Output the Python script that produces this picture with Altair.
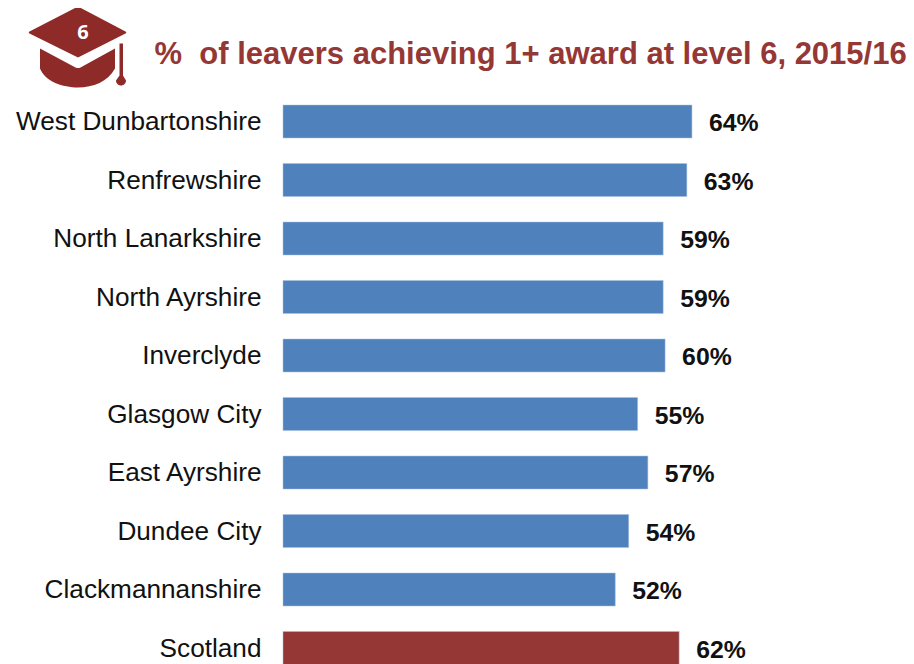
import altair as alt
import pandas as pd

categories = ["West Dunbartonshire", "Renfrewshire", "North Lanarkshire", "North Ayrshire",
              "Inverclyde", "Glasgow City", "East Ayrshire", "Dundee City",
              "Clackmannanshire", "Scotland"]
values = [64.0, 63.2, 59.5, 59.5, 59.8, 55.5, 57.1, 54.1, 52.0, 62.0]
labels = ["64%", "63%", "59%", "59%", "60%", "55%", "57%", "54%", "52%", "62%"]
groups = ["Council"] * 9 + ["National"]
title_text = ["%\u00a0 of leavers achieving 1+ award at level 6, 2015/16"]
icon_text = ["6"]

BLUE, RED = "#4F81BD", "#953735"
FONT = "Liberation Sans"

df = pd.DataFrame({"cat": categories, "val": values, "lab": labels, "grp": groups})

band = alt.Scale(paddingInner=0.436, paddingOuter=0.218, round=False, range=[0, 585])
y = alt.Y("cat:N", sort=categories, title=None, scale=band,
          axis=alt.Axis(domain=False, ticks=False, labelPadding=22, labelFont=FONT,
                        labelFontSize=26.2, labelColor="#111111", labelLimit=300,
                        labelOffset=0.5))
x = alt.X("val:Q", title=None, axis=None, scale=alt.Scale(domain=[0, 97.5], nice=False))

bars = alt.Chart(df).mark_bar(stroke="#A9C1DF", strokeWidth=0.5).encode(
    x=x, y=y,
    color=alt.Color("grp:N", legend=None,
                    scale=alt.Scale(domain=["Council", "National"], range=[BLUE, RED])),
)
text = alt.Chart(df).mark_text(align="left", dx=17, dy=2.5, font=FONT, fontSize=24.8,
                               fontWeight="bold", color="#111111").encode(
    x="val:Q", y=alt.Y("cat:N", sort=categories), text="lab:N")

cap_path = (
    "M0,-0.82 L-0.97,-0.32 Q-1,-0.3 -0.97,-0.28 L0,0.2 L0.95,-0.28 Q0.98,-0.3 0.95,-0.32 Z "
    "M-0.76,0.02 L-0.05,0.4 Q0,0.42 0.05,0.4 L0.74,0.02 L0.74,0.42 "
    "C0.6,0.68 0.3,0.8 0,0.8 C-0.3,0.8 -0.66,0.68 -0.76,0.42 Z "
    "M0.83,-0.08 L0.9,-0.08 L0.9,0.56 L0.96,0.66 A0.1,0.1 0 1 1 0.76,0.66 L0.83,0.56 Z"
)
icon_df = pd.DataFrame({"t": icon_text})
icon = alt.Chart(icon_df).mark_point(shape=cap_path, filled=True, size=10000, color="#8E2A27",
                                     opacity=1, strokeWidth=0).encode(
    x=alt.value(-205), y=alt.value(-44.75))
icon_num = alt.Chart(icon_df).mark_text(font="Open Sans", fontWeight="bold", fontSize=20,
                                        color="white").encode(
    x=alt.value(-200), y=alt.value(-59), text="t:N")
title_df = pd.DataFrame({"t": title_text})
title = alt.Chart(title_df).mark_text(align="left", baseline="alphabetic", font=FONT, fontSize=31,
                                      fontWeight="bold", color=RED).encode(
    x=alt.value(-128.5), y=alt.value(-28.75), text="t:N")

chart = (bars + text + icon + icon_num + title).properties(
    width=623, height=571.75,
    padding={"left": 275, "top": 84.25, "right": 0, "bottom": 0},
    autosize=alt.AutoSizeParams(type="none"),
).configure_view(stroke=None)

chart.save("out.html", embed_options={"renderer": "svg", "actions": False})
